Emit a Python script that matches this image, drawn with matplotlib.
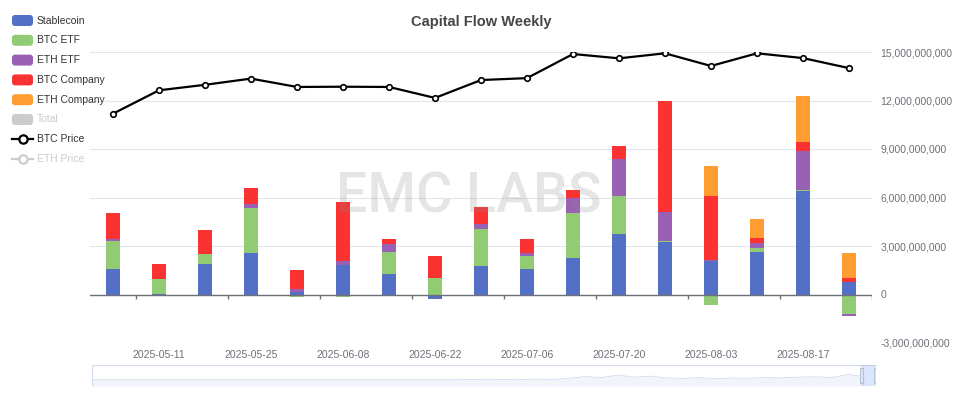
import matplotlib
matplotlib.use('Agg')
import matplotlib.pyplot as plt
from matplotlib.patches import FancyBboxPatch, Rectangle
from matplotlib.lines import Line2D
from matplotlib.ticker import FuncFormatter
import numpy as np

plt.rcParams['font.family'] = ['Liberation Sans', 'DejaVu Sans']

# 周度数据（单位：美元）
WEEKS = ['2025-05-04', '2025-05-11', '2025-05-18', '2025-05-25', '2025-06-01',
         '2025-06-08', '2025-06-15', '2025-06-22', '2025-06-29', '2025-07-06',
         '2025-07-13', '2025-07-20', '2025-07-27', '2025-08-03', '2025-08-10',
         '2025-08-17', '2025-08-24']
STABLECOIN = [1.55, 0.03, 1.87, 2.54, 0.15, 1.80, 1.26, -0.25, 1.79, 1.59,
              2.27, 3.73, 3.27, 2.10, 2.64, 6.43, 0.76]
BTC_ETF = [1.79, 0.95, 0.62, 2.78, -0.17, -0.15, 1.36, 0.99, 2.25, 0.78,
           2.78, 2.37, 0.05, -0.66, 0.22, 0.02, -1.18]
ETH_ETF = [0.12, -0.05, 0.02, 0.27, 0.20, 0.29, 0.52, 0.0, 0.31, 0.21,
           0.93, 2.27, 1.80, 0.05, 0.35, 2.45, -0.16]
BTC_COMPANY = [1.60, 0.90, 1.48, 1.00, 1.17, 3.65, 0.27, 1.38, 1.07, 0.87,
               0.47, 0.84, 6.88, 3.96, 0.27, 0.52, 0.23]
ETH_COMPANY = [0.0, 0.0, 0.0, 0.0, 0.0, 0.0, 0.0, 0.0, 0.0, 0.0,
               0.0, 0.0, 0.0, 1.86, 1.22, 2.86, 1.58]
BTC_PRICE = [94300, 104100, 106400, 109000, 105500, 105600, 105500, 100900, 108400,
             109200, 119300, 117500, 119600, 114300, 119600, 117600, 113400]
# 缩放条里的数据阴影（相对高度）
SHADOW = [0.30, 0.30, 0.30, 0.30, 0.30, 0.30, 0.30, 0.30, 0.30, 0.30, 0.30, 0.30,
          0.30, 0.30, 0.30, 0.30, 0.30, 0.30, 0.30, 0.30, 0.30, 0.30, 0.30, 0.31,
          0.30, 0.31, 0.30, 0.33, 0.31, 0.36, 0.45, 0.40, 0.52, 0.42, 0.47, 0.38,
          0.36, 0.40, 0.35, 0.38, 0.37, 0.40, 0.39, 0.42, 0.44, 0.40, 0.55, 0.45]

SERIES = [
    ('Stablecoin', STABLECOIN, '#5470C6'),
    ('BTC ETF', BTC_ETF, '#91CC75'),
    ('ETH ETF', ETH_ETF, '#9A60B4'),
    ('BTC Company', BTC_COMPANY, '#FA3232'),
    ('ETH Company', ETH_COMPANY, '#FF9D33'),
]

W, H = 964, 396
AXIS_COLOR = '#6E7079'
GRID_COLOR = '#E0E6F1'


def fx(px):
    return px / W


def fy(py):
    return 1 - py / H


fig = plt.figure(figsize=(W / 100, H / 100), dpi=100)
ax = fig.add_axes([fx(90), fy(343), fx(872) - fx(90), fy(52) - fy(343)])

x = np.arange(len(WEEKS))
pos_base = np.zeros(len(WEEKS))
neg_base = np.zeros(len(WEEKS))
for name, vals, color in SERIES:
    v = np.array(vals) * 1e9
    bottom = np.where(v >= 0, pos_base, neg_base)
    ax.bar(x, v, width=0.29, bottom=bottom, color=color, zorder=2, linewidth=0)
    pos_base += np.where(v >= 0, v, 0)
    neg_base += np.where(v < 0, v, 0)

# BTC价格（隐藏左轴）
ax2 = ax.twinx()
ax2.plot(x, BTC_PRICE, color='black', linewidth=1.6, marker='o', markersize=4,
         markerfacecolor='white', markeredgecolor='black', markeredgewidth=1.2, zorder=5)
ax2.set_ylim(-1800, 120150)
ax2.axis('off')

ax.set_xlim(-0.5, len(WEEKS) - 0.5)
ax.set_ylim(-3e9, 15e9)
ax.set_yticks(np.arange(-3e9, 15.1e9, 3e9))
ax.yaxis.set_major_formatter(FuncFormatter(lambda v, p: f'{v:,.0f}'))
ax.tick_params(axis='y', length=0, pad=6, labelcolor=AXIS_COLOR, labelsize=7.5,
               left=False, right=False, labelleft=False, labelright=True)
ax.grid(axis='y', color=GRID_COLOR, linewidth=0.8, zorder=0)
ax.set_axisbelow(True)
for s in ax.spines.values():
    s.set_visible(False)

ax.set_xticks(x[1::2])
ax.set_xticklabels(WEEKS[1::2])
ax.tick_params(axis='x', length=0, pad=5, labelcolor=AXIS_COLOR, labelsize=7.5)

# 零轴线和刻度
ax.axhline(0, color=AXIS_COLOR, linewidth=1, zorder=3)
tick_x = np.arange(0.5, len(WEEKS), 2)
ax.vlines(tick_x, -0.3e9, 0, color=AXIS_COLOR, linewidth=1, zorder=3)

# 水印
fig.text(fx(469), fy(197), 'EMC LABS', ha='center', va='center', fontsize=40,
         family=['Roboto', 'Liberation Sans'], fontweight='medium',
         color='#8C8C8C', alpha=0.22, zorder=10)

# 标题
fig.text(fx(481), fy(22), 'Capital Flow Weekly', ha='center', va='center',
         fontsize=10.5, fontweight='bold', color='#464646')

# 图例
legend_items = [(name, 'box', color, True) for name, vals, color in SERIES]
legend_items += [('Total', 'box', '#CCCCCC', False),
                 ('BTC Price', 'line', 'black', True),
                 ('ETH Price', 'line', '#CCCCCC', False)]
for i, (label, kind, color, active) in enumerate(legend_items):
    yc = 20.5 + i * 19.8
    if kind == 'box':
        fig.patches.append(FancyBboxPatch(
            (12 / 100, (H - yc - 5.5) / 100), 21 / 100, 11 / 100,
            boxstyle='round,pad=0,rounding_size=0.03', facecolor=color,
            edgecolor='none', transform=fig.dpi_scale_trans, figure=fig))
    else:
        fig.add_artist(Line2D([fx(12), fx(33)], [fy(yc), fy(yc)], color=color,
                              linewidth=1.6, transform=fig.transFigure))
        fig.add_artist(Line2D([fx(22.5)], [fy(yc)], marker='o', markersize=6,
                              markerfacecolor='white', markeredgecolor=color,
                              markeredgewidth=1.6, transform=fig.transFigure))
    fig.text(fx(37), fy(yc), label, ha='left', va='center', fontsize=7.5,
             color='#333333' if active else '#CCCCCC')

# 底部缩放条
sl = fig.add_axes([fx(92), fy(386), fx(876) - fx(92), fy(365) - fy(386)])
sl.set_xlim(0, 1)
sl.set_ylim(0, 1)
sl.axis('off')
sl.add_patch(Rectangle((0, 0), 1, 1, facecolor='none', edgecolor='#D2DBEE',
                       linewidth=0.8, transform=sl.transAxes))
sx = np.linspace(0, 0.985, len(SHADOW))
sl.fill_between(sx, 0, SHADOW, color='#D2DBEE', alpha=0.3, linewidth=0)
sl.plot(sx, SHADOW, color='#D2DBEE', linewidth=0.6)
sl.add_patch(Rectangle((0.981, 0), 0.019, 1, facecolor='#8FB0F7', alpha=0.3,
                       edgecolor='#ACB8D1', linewidth=0.8))
sl.add_patch(Rectangle((0.979, 0.15), 0.004, 0.7, facecolor='#DDE4F3',
                       edgecolor='#ACB8D1', linewidth=0.6))
sl.add_patch(Rectangle((0.997, 0.15), 0.004, 0.7, facecolor='#DDE4F3',
                       edgecolor='#ACB8D1', linewidth=0.6))

fig.savefig('out.png', dpi=100)
